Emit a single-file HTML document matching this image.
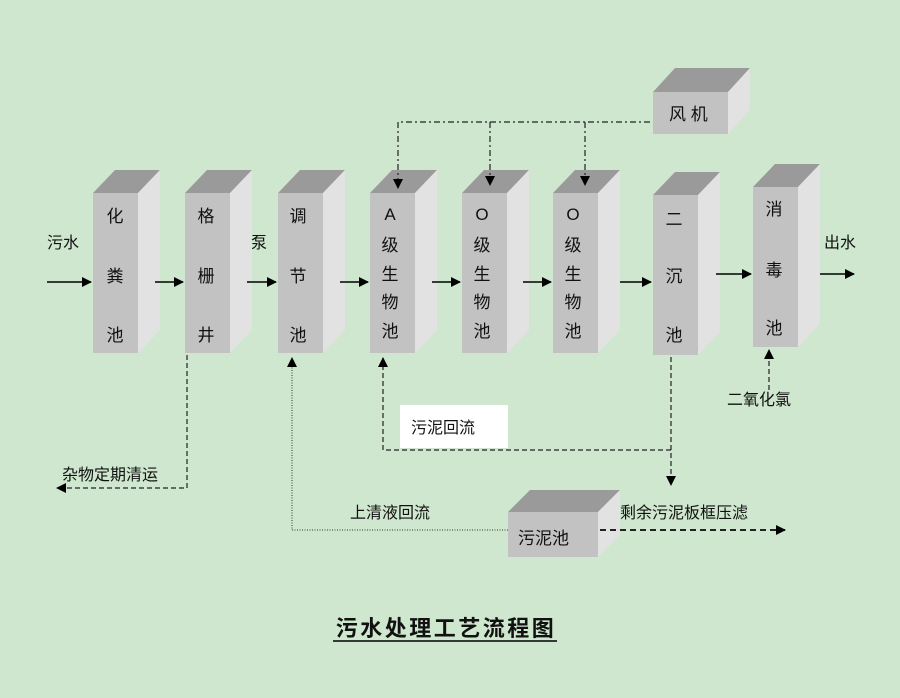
<!DOCTYPE html>
<html><head><meta charset="utf-8"><style>
body{margin:0;background:#cfe7cf;}
svg{display:block}
text{font-family:"Liberation Sans","Noto Sans CJK SC",sans-serif;fill:#111}
</style></head><body>
<svg width="900" height="698" viewBox="0 0 900 698" xmlns="http://www.w3.org/2000/svg">
<rect width="900" height="698" fill="#cfe7cf"/>
<defs>
<marker id="a" markerWidth="10" markerHeight="10" refX="9" refY="5" orient="auto" markerUnits="userSpaceOnUse"><path d="M0,0 L10,5 L0,10z" fill="#000"/></marker>
<g id="box"><polygon points="0,0 22,-23 67,-23 45,0" fill="#9a9a9a"/><polygon points="45,0 67,-23 67,137 45,160" fill="#e2e2e2"/><rect x="0" y="0" width="45" height="160" fill="#c2c2c2"/></g>
</defs>
<use href="#box" x="93" y="193"/>
<use href="#box" x="185" y="193"/>
<use href="#box" x="278" y="193"/>
<use href="#box" x="370" y="193"/>
<use href="#box" x="462" y="193"/>
<use href="#box" x="553" y="193"/>
<use href="#box" x="653" y="195"/>
<use href="#box" x="753" y="187"/>
<polygon points="653,92 675,68 750,68 728,92" fill="#9a9a9a"/><polygon points="728,92 750,68 750,110 728,134" fill="#e2e2e2"/><rect x="653" y="92" width="75" height="42" fill="#c2c2c2"/>
<text x="669" y="120" font-size="17">风 机</text>
<polygon points="508,512 530,490 620,490 598,512" fill="#9a9a9a"/><polygon points="598,512 620,490 620,535 598,557" fill="#e2e2e2"/><rect x="508" y="512" width="90" height="45" fill="#c2c2c2"/>
<text x="518" y="544" font-size="17">污泥池</text>
<g font-size="17" text-anchor="middle">
<text x="115" y="222">化</text><text x="115" y="282">粪</text><text x="115" y="341">池</text>
<text x="206" y="222">格</text><text x="206" y="282">栅</text><text x="206" y="341">井</text>
<text x="298" y="222">调</text><text x="298" y="282">节</text><text x="298" y="341">池</text>
<text x="390" y="220">A</text><text x="390" y="251">级</text><text x="390" y="280">生</text><text x="390" y="308">物</text><text x="390" y="337">池</text>
<text x="482" y="220">O</text><text x="482" y="251">级</text><text x="482" y="280">生</text><text x="482" y="308">物</text><text x="482" y="337">池</text>
<text x="573" y="220">O</text><text x="573" y="251">级</text><text x="573" y="280">生</text><text x="573" y="308">物</text><text x="573" y="337">池</text>
<text x="674" y="225">二</text><text x="674" y="282">沉</text><text x="674" y="341">池</text>
<text x="774" y="215">消</text><text x="774" y="276">毒</text><text x="774" y="334">池</text>
</g>
<g font-size="16">
<text x="47" y="248">污水</text>
<text x="251" y="248">泵</text>
<text x="824" y="248">出水</text>
<text x="727" y="405">二氧化氯</text>
<text x="62" y="480">杂物定期清运</text>
<text x="350" y="518">上清液回流</text>
<text x="620" y="518">剩余污泥板框压滤</text>
</g>
<rect x="400" y="405" width="108" height="43" fill="#fff"/>
<text x="411" y="433" font-size="16">污泥回流</text>
<g stroke="#000" stroke-width="1.6" fill="none" marker-end="url(#a)">
<line x1="47" y1="282" x2="91" y2="282"/>
<line x1="155" y1="282" x2="183" y2="282"/>
<line x1="247" y1="282" x2="276" y2="282"/>
<line x1="340" y1="282" x2="368" y2="282"/>
<line x1="432" y1="282" x2="460" y2="282"/>
<line x1="523" y1="282" x2="551" y2="282"/>
<line x1="620" y1="282" x2="651" y2="282"/>
<line x1="716" y1="274" x2="751" y2="274"/>
<line x1="820" y1="274" x2="854" y2="274"/>
</g>
<g stroke="#222" stroke-width="1.2" fill="none" stroke-dasharray="5,3">
<polyline points="187,355 187,488 57,488" marker-end="url(#a)"/>
<line x1="671" y1="357" x2="671" y2="485" marker-end="url(#a)"/>
<polyline points="671,450 383,450 383,358" marker-end="url(#a)"/>
<line x1="769" y1="390" x2="769" y2="350" marker-end="url(#a)"/>
<line x1="600" y1="530" x2="785" y2="530" stroke-width="2" stroke-dasharray="6,4" marker-end="url(#a)"/>
</g>
<polyline points="508,530 292,530 292,358" stroke="#333" stroke-width="1" fill="none" stroke-dasharray="1,1.5" marker-end="url(#a)"/>
<g stroke="#222" stroke-width="1.2" fill="none" stroke-dasharray="6,3,2,3">
<polyline points="650,122 398,122 398,188" marker-end="url(#a)"/>
<line x1="490" y1="122" x2="490" y2="185" marker-end="url(#a)"/>
<line x1="585" y1="122" x2="585" y2="185" marker-end="url(#a)"/>
</g>
<text x="446" y="636" font-size="22" font-weight="bold" text-anchor="middle" letter-spacing="2.5">污水处理工艺流程图</text>
<line x1="333" y1="641" x2="557" y2="641" stroke="#000" stroke-width="1.5"/>
</svg>
</body></html>
